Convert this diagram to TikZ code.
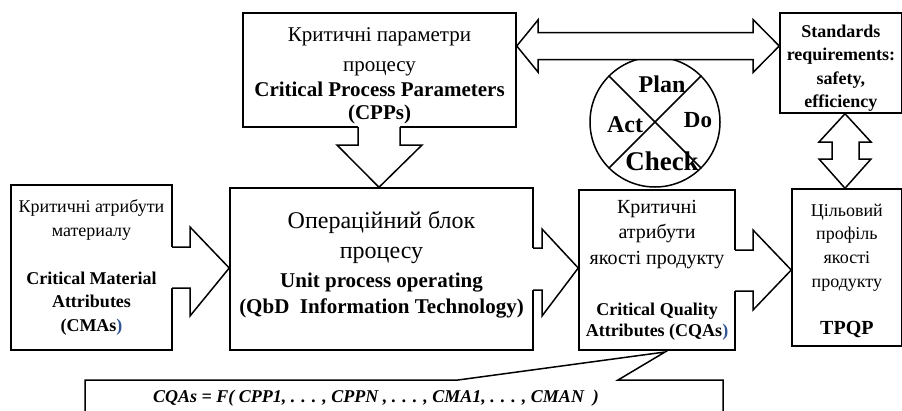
\documentclass[tikz,border=0pt]{standalone}
\usepackage{fontspec}
\setmainfont{Liberation Serif}
\usetikzlibrary{calc}
\definecolor{parblue}{RGB}{50,85,150}
\newcommand{\fz}[2]{\fontsize{#1}{#2}\selectfont}
\newcommand{\padT}[1]{\rule{0pt}{#1}}
\newcommand{\padB}[1]{\rule[-#1]{0pt}{0pt}}
% right-pointing block arrow merged into the source box
% #1 source, #2 target, #3 head base x, #4 shaft top y, #5 shaft bottom y, #6 head top y, #7 head bottom y, #8 tip y
\newcommand{\rblock}[8]{%
  \fill[white] ($(#1.east |- 0,#4)+(-3.5,0)$) -- (#3,#4) -- (#3,#6) -- (#2.west |- 0,#8) -- (#3,#7) -- (#3,#5) -- ($(#1.east |- 0,#5)+(-3.5,0)$) -- cycle;
  \draw[arrline] ($(#1.east |- 0,#4)+(-0.75,0)$) -- (#3,#4) -- (#3,#6) -- (#2.west |- 0,#8) -- (#3,#7) -- (#3,#5) -- ($(#1.east |- 0,#5)+(-0.75,0)$);
}
\begin{document}
\begin{tikzpicture}[x=1pt,y=-1pt,
  box/.style={draw, line width=1.5pt, inner sep=0pt, align=center},
  arrline/.style={line width=1.5pt, line join=miter},
  blockarrow/.style={draw, fill=white, line width=1.5pt, line join=miter},
  pdcatext/.style={anchor=base, inner sep=0pt}]
\useasboundingbox (0,0) rectangle (902,410);

% boxes
\node[box, minimum width=161pt, minimum height=165pt, font=\fz{18}{23.5}] (cma) at (91.5,267.5)
  {Критичні атрибути\\материалу\\[24.5pt]\bfseries Critical Material\\\bfseries Attributes\\\bfseries (CMAs{\color{parblue})}};
\node[box, minimum width=303pt, minimum height=162pt, font=\fz{24}{30}] (main) at (381.5,269)
  {Операційний блок\\процесу\\[-1pt]\fz{21}{25}\bfseries Unit process operating\\[-4pt]\fz{21}{25}\bfseries (QbD\ \ Information Technology)\padB{13pt}};
\node[box, minimum width=273pt, minimum height=114pt, font=\fz{21}{25}] (cpp) at (379.5,70)
  {\padT{25pt}Критичні параметри\\[5pt]процесу\\\bfseries Critical Process Parameters\\[-2pt]\bfseries (CPPs)};
\node[box, minimum width=121.8pt, minimum height=100pt, font=\fz{18}{23.3}\bfseries] (std) at (840.9,63)
  {\padT{23pt}Standards\\requirements:\\safety,\\efficiency};
\node[box, minimum width=156pt, minimum height=160pt, font=\fz{20}{25.5}] (cqa) at (657,270)
  {Критичні\\атрибути\\якості продукту\\[25.5pt]\fz{18}{22}\bfseries Critical Quality\\[-4.5pt]\fz{18}{22}\bfseries Attributes (CQAs{\color{parblue})}};
\node[box, minimum width=109.8pt, minimum height=157pt, font=\fz{18}{23.7}] (tpqp) at (846.9,267.5)
  {\padT{19pt}Цільовий\\профіль\\якості\\продукту\\[23.7pt]\fz{20}{24}\bfseries TPQP};

% PDCA circle
\node[draw, circle, line width=1.5pt, minimum size=130pt, inner sep=0pt] (pdca) at (655,122) {};
\draw[arrline] (pdca.north west) -- (pdca.south east);
\draw[arrline] (pdca.north east) -- (pdca.south west);
\node[pdcatext, font=\fz{24}{24}\bfseries] (plan) at (662,92) {Plan};
\node[pdcatext, font=\fz{23}{23}\bfseries] (do) at (698,127) {Do};
\node[pdcatext, font=\fz{24}{24}\bfseries] (act) at (625,132) {Act};
\node[pdcatext, font=\fz{27}{27}\bfseries] (check) at (662,170) {Check};

% block arrows into boxes
\rblock{cma}{main}{190}{247}{288}{227}{316}{268}
\rblock{main}{cqa}{542}{248}{290}{229}{316}{268}
\rblock{cqa}{tpqp}{753}{250}{291}{230}{310}{270}

% CPP -> main (down)
\fill[white] (358,124) -- (358,145) -- (337,145) -- (379,0 |- main.north) -- (422,145) -- (400,145) -- (400,124) -- cycle;
\draw[arrline] (358,127) -- (358,145) -- (337,145) -- (379,0 |- main.north) -- (422,145) -- (400,145) -- (400,127);

% CPP <-> Standards
\draw[blockarrow] (cpp.east |- 0,46) -- (538,20) -- (538,32.5) -- (753,32.5) -- (753,19.5) -- (std.west |- 0,46)
  -- (753,72.5) -- (753,59.5) -- (538,59.5) -- (538,72) -- cycle;

% Standards <-> TPQP
\draw[blockarrow] (845,0 |- std.south) -- (871,142) -- (859,142) -- (859,159) -- (871,159) -- (845,0 |- tpqp.north)
  -- (819,159) -- (832,159) -- (832,142) -- (819,142) -- cycle;

% callout with formula
\coordinate (ctip) at (665,352);
\draw[arrline] (85,412) -- (85,380) -- (458,380) -- (ctip) -- (618,380) -- (723,380) -- (723,412);
\node[anchor=base west, inner sep=0pt, font=\fz{18}{20}\bfseries\itshape] (formula) at (153,402)
  {CQAs = F( CPP1, . . . , CPPN , . . . , CMA1, . . . , CMAN\ \ )};
\end{tikzpicture}
\end{document}
